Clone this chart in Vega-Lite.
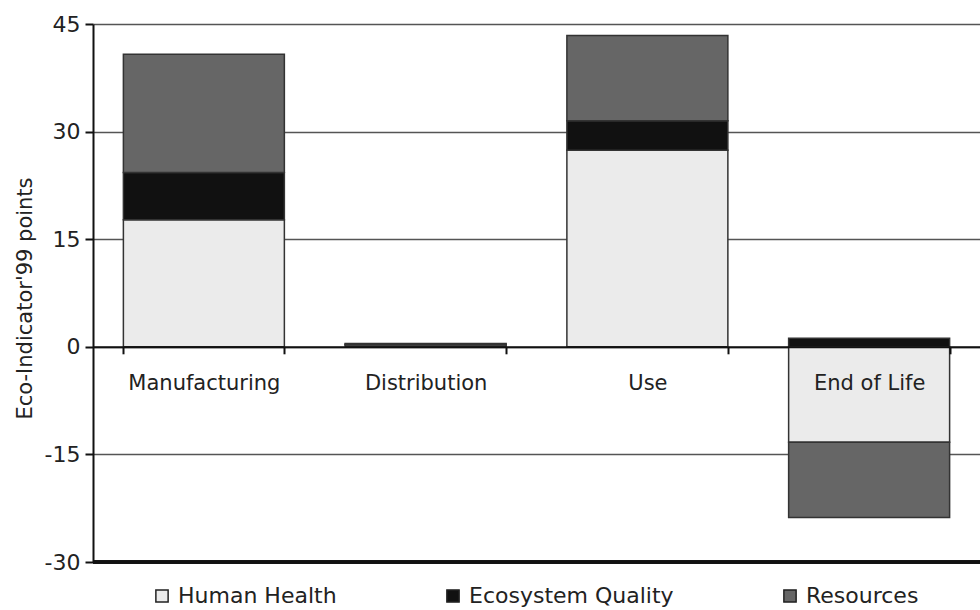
{
  "$schema": "https://vega.github.io/schema/vega-lite/v6.json",
  "width": 887,
  "height": 538,
  "autosize": {"type": "none"},
  "padding": {"left": 93, "top": 24, "right": 0, "bottom": 48},
  "background": "white",
  "config": {
    "view": {"stroke": null},
    "font": "DejaVu Sans"
  },
  "data": {
    "values": [
      {"Stage": "Manufacturing", "Category": "Human Health", "Points": 17.7},
      {"Stage": "Manufacturing", "Category": "Ecosystem Quality", "Points": 6.6},
      {"Stage": "Manufacturing", "Category": "Resources", "Points": 16.5},
      {"Stage": "Distribution", "Category": "Human Health", "Points": 0.25},
      {"Stage": "Distribution", "Category": "Ecosystem Quality", "Points": 0.1},
      {"Stage": "Distribution", "Category": "Resources", "Points": 0.1},
      {"Stage": "Use", "Category": "Human Health", "Points": 27.4},
      {"Stage": "Use", "Category": "Ecosystem Quality", "Points": 4.1},
      {"Stage": "Use", "Category": "Resources", "Points": 11.9},
      {"Stage": "End of Life", "Category": "Human Health", "Points": -13.3},
      {"Stage": "End of Life", "Category": "Ecosystem Quality", "Points": 1.2},
      {"Stage": "End of Life", "Category": "Resources", "Points": -10.5}
    ]
  },
  "transform": [
    {"calculate": "indexof(['Human Health', 'Ecosystem Quality', 'Resources'], datum.Category)", "as": "StackOrder"}
  ],
  "layer": [
    {
      "mark": {"type": "bar", "stroke": "#333333", "strokeWidth": 1.5},
      "encoding": {
        "x": {
          "field": "Stage",
          "type": "nominal",
          "sort": ["Manufacturing", "Distribution", "Use", "End of Life"],
          "scale": {"paddingInner": 0.274, "paddingOuter": 0.137},
          "axis": {
            "title": null,
            "orient": "bottom",
            "offset": -215.2,
            "labelAngle": 0,
            "labelFontSize": 21,
            "labelColor": "#222222",
            "labelPadding": 19,
            "tickBand": "extent",
            "tickSize": 7,
            "tickWidth": 2,
            "tickColor": "#111111",
            "domainColor": "#111111",
            "domainWidth": 2,
            "zindex": 1
          }
        },
        "y": {
          "field": "Points",
          "type": "quantitative",
          "stack": "zero",
          "scale": {"domain": [-30, 45], "nice": false, "zero": false},
          "axis": {
            "title": "Eco-Indicator'99 points",
            "titleFontSize": 21,
            "titleFontWeight": "normal",
            "titleColor": "#222222",
            "titleX": -68,
            "titleY": 274,
            "titleAngle": -90,
            "titleAlign": "center",
            "titleBaseline": "middle",
            "values": [-30, -15, 0, 15, 30, 45],
            "labelExpr": "datum.value + ''",
            "labelFontSize": 22,
            "labelColor": "#222222",
            "labelPadding": 5,
            "tickSize": 8,
            "tickWidth": 2,
            "tickColor": "#111111",
            "domainColor": "#111111",
            "domainWidth": 2,
            "grid": true,
            "gridColor": "#555555",
            "gridWidth": 1.5,
            "zindex": 0
          }
        },
        "order": {"field": "StackOrder", "type": "quantitative", "sort": "ascending"},
        "color": {
          "field": "Category",
          "type": "nominal",
          "sort": ["Human Health", "Ecosystem Quality", "Resources"],
          "scale": {
            "domain": ["Human Health", "Ecosystem Quality", "Resources"],
            "range": ["#ebebeb", "#111111", "#666666"]
          },
          "legend": {
            "orient": "none",
            "legendX": 58,
            "legendY": 561,
            "direction": "horizontal",
            "title": null,
            "symbolType": "square",
            "symbolSize": 150,
            "symbolStrokeColor": "#222222",
            "symbolStrokeWidth": 1.5,
            "labelFontSize": 22,
            "labelColor": "#222222",
            "labelOffset": 5,
            "labelLimit": 400,
            "columnPadding": 105
          }
        }
      }
    },
    {
      "mark": {"type": "rule", "color": "#111111", "strokeWidth": 2.5},
      "encoding": {"y": {"datum": -30}}
    }
  ]
}
